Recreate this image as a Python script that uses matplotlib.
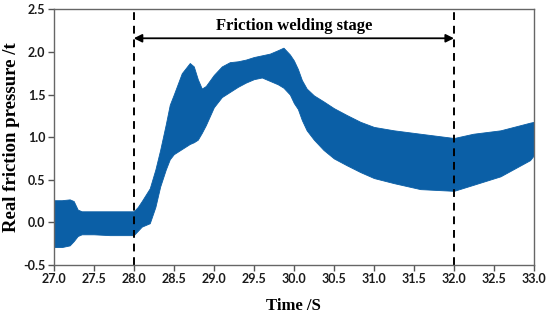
import matplotlib
matplotlib.use("Agg")
import matplotlib.pyplot as plt

# Envelope of the dense oscillating pressure signal
time = [27.0, 27.1, 27.2, 27.25, 27.3, 27.35, 27.5, 27.7, 27.9, 28.0,
        28.05, 28.1, 28.2, 28.27, 28.33, 28.4, 28.45, 28.5, 28.6, 28.7,
        28.75, 28.8, 28.85, 28.9, 29.0, 29.1, 29.2, 29.3, 29.4, 29.5,
        29.6, 29.7, 29.8, 29.87, 29.95, 30.0, 30.05, 30.1, 30.16, 30.25,
        30.37, 30.5, 30.66, 30.83, 31.0, 31.25, 31.58, 32.0, 32.24, 32.58,
        32.95, 33.0]
upper = [0.26, 0.26, 0.27, 0.25, 0.15, 0.13, 0.13, 0.13, 0.13, 0.13,
         0.18, 0.25, 0.40, 0.62, 0.85, 1.15, 1.38, 1.50, 1.75, 1.87,
         1.83, 1.68, 1.57, 1.60, 1.73, 1.83, 1.88, 1.89, 1.91, 1.94,
         1.96, 1.98, 2.02, 2.05, 1.97, 1.90, 1.80, 1.67, 1.57, 1.49,
         1.42, 1.34, 1.26, 1.18, 1.12, 1.08, 1.04, 0.99, 1.04, 1.08,
         1.17, 1.18]
lower = [-0.29, -0.29, -0.27, -0.22, -0.16, -0.14, -0.14, -0.15, -0.15, -0.15,
         -0.10, -0.05, -0.01, 0.18, 0.42, 0.62, 0.74, 0.80, 0.86, 0.92,
         0.94, 0.97, 1.05, 1.14, 1.35, 1.47, 1.53, 1.59, 1.64, 1.68,
         1.70, 1.66, 1.62, 1.58, 1.50, 1.40, 1.33, 1.20, 1.08, 0.97,
         0.85, 0.75, 0.67, 0.59, 0.52, 0.46, 0.39, 0.37, 0.44, 0.54,
         0.73, 0.79]

stage_start = 28.0
stage_end = 32.0
stage_label = "Friction welding stage"
xticks = [27.0, 27.5, 28.0, 28.5, 29.0, 29.5, 30.0, 30.5, 31.0, 31.5, 32.0, 32.5, 33.0]
yticks = [-0.5, 0.0, 0.5, 1.0, 1.5, 2.0, 2.5]

fig = plt.figure(figsize=(5.5, 3.21), dpi=100)
ax = fig.add_axes([0.0976, 0.1745, 0.8734, 0.7965])

blue = "#0b5fa6"
ax.fill_between(time, lower, upper, color=blue, lw=0.6, edgecolor=blue)

ax.axvline(stage_start, color="black", ls=(0, (4, 3)), lw=1.4)
ax.axvline(stage_end, color="black", ls=(0, (4, 3)), lw=1.4)
ax.annotate("", xy=(stage_start, 2.16), xytext=(stage_end, 2.16),
            arrowprops=dict(arrowstyle="<|-|>", color="black", lw=1.3,
                            mutation_scale=12, shrinkA=0, shrinkB=0))
ax.text((stage_start + stage_end) / 2, 2.31, stage_label, ha="center", va="center",
        fontsize=12, fontweight="bold", family="Liberation Serif")

ax.set_xlim(27.0, 33.0)
ax.set_ylim(-0.5, 2.5)
ax.set_xticks(xticks)
ax.set_yticks(yticks)
ax.set_xticklabels([f"{v:.1f}" for v in xticks])
ax.set_yticklabels([f"{v:.1f}" for v in yticks])
for lab in ax.get_xticklabels() + ax.get_yticklabels():
    lab.set_family("Lato")
    lab.set_fontweight("bold")
    lab.set_fontsize(9)
    lab.set_color("#1a1a1a")
ax.tick_params(direction="out", length=4, width=1, color="#555555", pad=2)
for s in ax.spines.values():
    s.set_color("#666666")
    s.set_linewidth(1.0)

ax.set_xlabel("Time /S", fontsize=12, fontweight="bold", family="Liberation Serif",
              va="center")
ax.set_ylabel("Real friction pressure /t", fontsize=13.5, fontweight="bold",
              family="Liberation Serif", va="center")
ax.xaxis.set_label_coords(0.5, -0.16)
ax.yaxis.set_label_coords(-0.087, 0.5)

fig.savefig("out.png", dpi=100)
